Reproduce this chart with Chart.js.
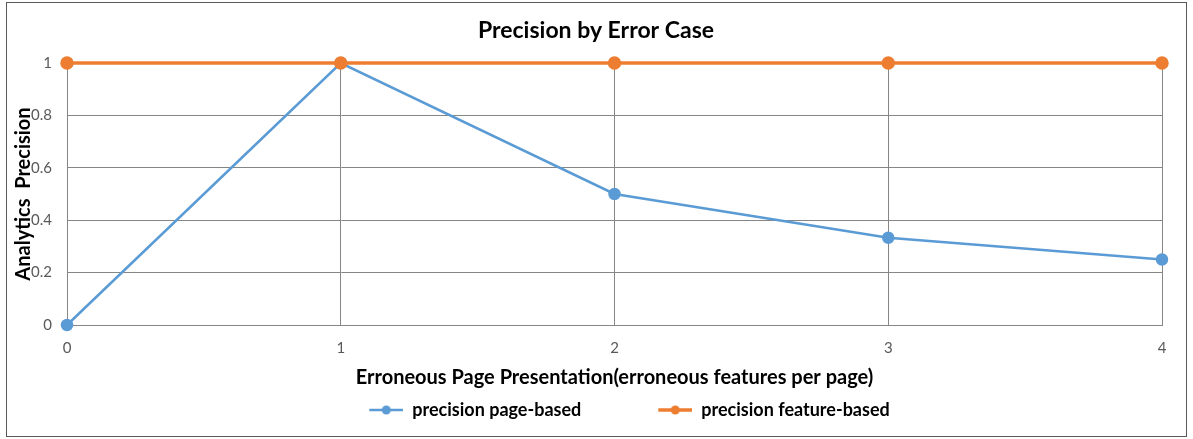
<!DOCTYPE html>
<html>
<head>
<meta charset="utf-8">
<script src="https://cdn.jsdelivr.net/npm/chart.js@4.4.1/dist/chart.umd.min.js"></script>
<style>
  html, body { margin: 0; padding: 0; background: #fff; }
  #wrap { position: relative; width: 1193px; height: 439px; }
</style>
</head>
<body>
<div id="wrap"><canvas id="chart" width="1193" height="439"></canvas></div>
<script>
const errorCounts = [0, 1, 2, 3, 4];
const pageBased = [0, 1, 0.5, 0.333, 0.25];
const featureBased = [1, 1, 1, 1, 1];
const yTicks = [0, 0.2, 0.4, 0.6, 0.8, 1];

const blue = '#5B9BD5';
const orange = '#ED7D31';

// legend marker: blank left part, then line with a dot (Excel style)
function marker(color, lw) {
    const c = document.createElement('canvas');
    c.width = 101; c.height = 12;
    const g = c.getContext('2d');
    g.strokeStyle = color;
    g.lineWidth = lw;
    g.beginPath();
    g.moveTo(67, 6);
    g.lineTo(101, 6);
    g.stroke();
    g.fillStyle = color;
    g.beginPath();
    g.arc(84, 6, 4.5, 0, Math.PI * 2);
    g.fill();
    return c;
}

const frame = {
    id: 'frame',
    beforeDraw(chart) {
        const ctx = chart.ctx;
        ctx.save();
        ctx.fillStyle = '#fff';
        ctx.fillRect(0, 0, chart.width, chart.height);
        ctx.strokeStyle = '#595959';
        ctx.lineWidth = 1;
        ctx.strokeRect(6.5, 2.5, 1180, 434);
        ctx.restore();
    }
};

const ctx = document.getElementById('chart').getContext('2d');
new Chart(ctx, {
    type: 'line',
    data: {
        datasets: [
            {
                label: 'precision page-based',
                data: errorCounts.map((x, i) => ({ x: x, y: pageBased[i] })),
                borderColor: blue, backgroundColor: blue,
                borderWidth: 2.5, pointRadius: 5, pointHoverRadius: 5,
                pointStyle: 'circle', legendMarker: marker(blue, 2.5),
                clip: false, order: 2
            },
            {
                label: 'precision feature-based',
                data: errorCounts.map((x, i) => ({ x: x, y: featureBased[i] })),
                borderColor: orange, backgroundColor: orange,
                borderWidth: 3.5, pointRadius: 5, pointHoverRadius: 5,
                pointStyle: 'circle', legendMarker: marker(orange, 3.5),
                clip: false, order: 1
            }
        ]
    },
    options: {
        responsive: false,
        animation: false,
        layout: { padding: { left: 30, right: 31, top: 0, bottom: 10 } },
        plugins: {
            title: {
                display: true,
                text: 'Precision by Error Case',
                color: '#000',
                font: { family: 'Lato', size: 23, weight: 'bold' },
                padding: { top: 17.2, bottom: 18.2 }
            },
            legend: {
                position: 'bottom',
                labels: {
                    usePointStyle: true,
                    pointStyleWidth: 101,
                    boxHeight: 12,
                    padding: 10,
                    color: '#000',
                    font: { family: 'Lato', size: 18, weight: 'bold' },
                    generateLabels(chart) {
                        return chart.data.datasets.map((ds, i) => ({
                            text: ds.label,
                            pointStyle: ds.legendMarker,
                            fillStyle: ds.backgroundColor,
                            strokeStyle: ds.borderColor,
                            lineWidth: 0,
                            hidden: false,
                            datasetIndex: i
                        }));
                    }
                }
            },
            tooltip: { enabled: false }
        },
        scales: {
            x: {
                type: 'linear',
                min: 0, max: 4,
                afterFit(scale) { scale.height = 66; },
                ticks: {
                    stepSize: 1,
                    padding: 14,
                    color: '#595959',
                    font: { family: 'Lato', size: 15 },
                    maxRotation: 0
                },
                grid: { color: '#868686', lineWidth: 1, drawTicks: false },
                border: { color: '#868686', width: 1 },
                title: {
                    display: true,
                    text: 'Erroneous Page Presentation(erroneous features per page)',
                    color: '#000',
                    font: { family: 'Lato', size: 20, weight: 'bold' },
                    padding: { top: 0, bottom: 1 }
                }
            },
            y: {
                min: 0, max: 1,
                afterFit(scale) { scale.width = 37; },
                afterBuildTicks(scale) { scale.ticks = yTicks.map(v => ({ value: v })); },
                ticks: {
                    padding: 15,
                    color: '#595959',
                    font: { family: 'Lato', size: 15 },
                    callback: v => String(v)
                },
                grid: { color: '#868686', lineWidth: 1, drawTicks: false },
                border: { color: '#868686', width: 1 },
                title: {
                    display: true,
                    text: 'Analytics  Precision',
                    color: '#000',
                    font: { family: 'Lato', size: 20, weight: 'bold' },
                    padding: { top: -18, bottom: 0 }
                }
            }
        }
    },
    plugins: [frame]
});
</script>
</body>
</html>
